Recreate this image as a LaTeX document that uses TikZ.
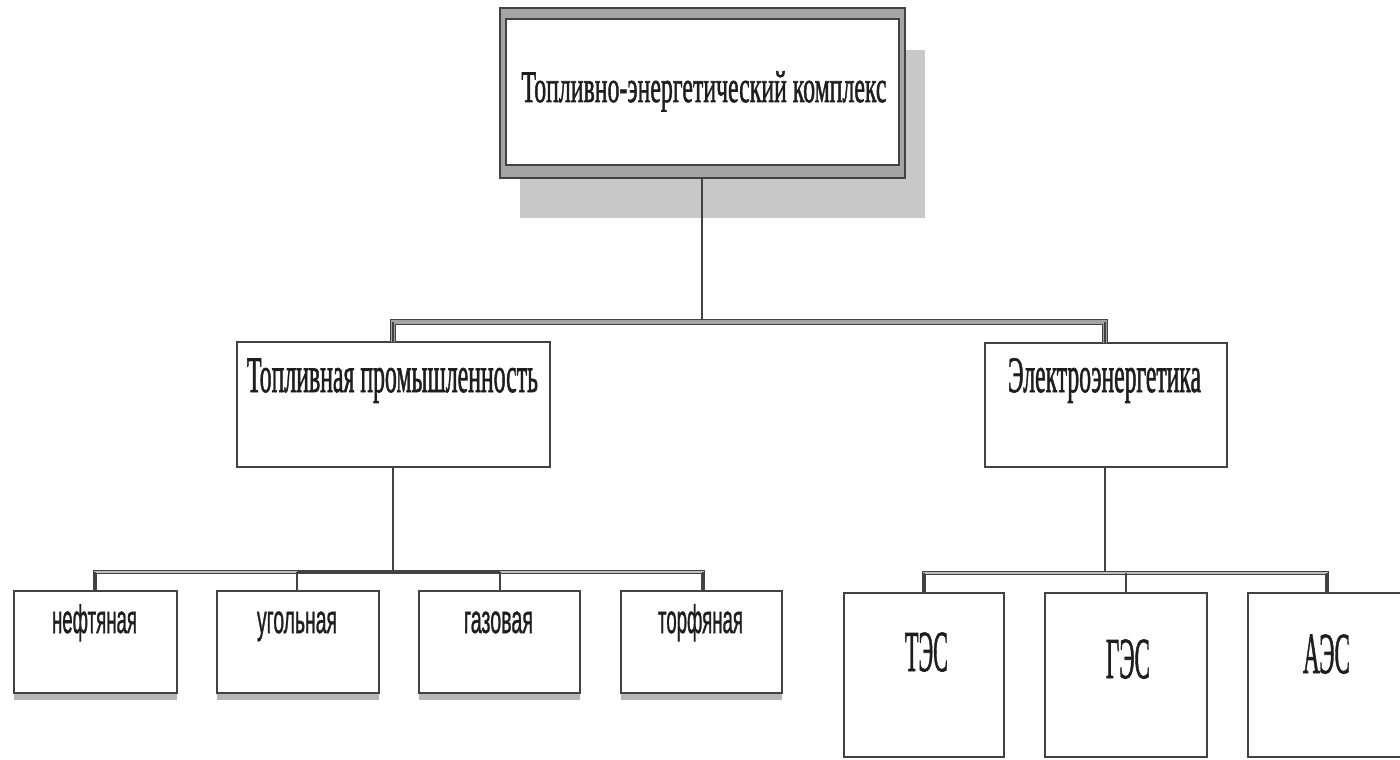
\documentclass[tikz,border=0pt]{standalone}
\usepackage{fontspec}
\setmainfont{Liberation Serif}[FakeBold=1.6]
\newfontfamily\sansf{Liberation Sans}[FakeBold=1.3]
\usepackage{graphicx}
\definecolor{frame}{HTML}{424242}
\definecolor{ink}{HTML}{1E1E1E}
\definecolor{shadowgray}{HTML}{C8C8C8}
\definecolor{midgray}{HTML}{A4A4A4}
\newcommand\fitw[2]{\resizebox{#1}{\height}{#2}}
\begin{document}
\begin{tikzpicture}[x=1pt,y=-1pt,
  box/.style={draw=frame, line width=2.4pt, fill=white, inner sep=0pt, outer sep=0pt, anchor=north west},
  lbl/.style={anchor=base, inner sep=0pt, outer sep=0pt, text=ink},
  conn/.style={draw=frame, line width=2.4pt},
  bus/.style={draw=frame, line width=1.3pt, double=midgray, double distance=3.5pt},
  lowbus/.style={draw=frame, line width=1.1pt, double=midgray!70, double distance=2pt},
]
\useasboundingbox (0,0) rectangle (1400,760);
\fill[white] (0,0) rectangle (1400,760);

% top box with shadow and double frame
\fill[shadowgray] (520,50) rectangle (925,218);
\node[box, draw=frame, line width=1.5pt, fill=midgray, minimum width=405pt, minimum height=170pt] (topouter) at (500,8) {};
\node[box, draw=frame, line width=1.5pt, minimum width=393pt, minimum height=146pt] (top) at (506,19) {};
\node[lbl] (t-top) at (704,102) {\fitw{365pt}{\fontsize{45}{45}\selectfont Топливно-энергетический комплекс}};

% second level
\node[box, minimum width=313pt, minimum height=125pt] (fuel) at (237,342) {};
\node[lbl] (t-fuel) at (392.5,392) {\fitw{291pt}{\fontsize{51}{51}\selectfont Топливная промышленность}};
\node[box, minimum width=242pt, minimum height=124pt] (elec) at (985,343) {};
\node[lbl] (t-elec) at (1104.5,392) {\fitw{193pt}{\fontsize{51}{51}\selectfont Электроэнергетика}};

% fuel children
\foreach \nm/\x/\w in {oil/14/163, coal/217/162, gas/419/161, peat/621/161}{
  \fill[midgray!80] (\x,690) rectangle (\x+\w,700);
  \node[box, minimum width=\w pt, minimum height=102pt] (\nm) at (\x,591) {};
}
\node[lbl] (t-oil)  at (94.5,633)  {\fitw{85pt}{\sansf\fontsize{40}{40}\selectfont нефтяная}};
\node[lbl] (t-coal) at (297,633)   {\fitw{80pt}{\sansf\fontsize{40}{40}\selectfont угольная}};
\node[lbl] (t-gas)  at (498.5,633) {\fitw{69pt}{\sansf\fontsize{40}{40}\selectfont газовая}};
\node[lbl] (t-peat) at (700.5,633) {\fitw{85pt}{\sansf\fontsize{40}{40}\selectfont торфяная}};

% electro children
\node[box, minimum width=160pt, minimum height=164pt] (tes) at (844,593) {};
\node[box, minimum width=162pt, minimum height=164pt] (ges) at (1045,593) {};
\node[box, minimum width=160pt, minimum height=164pt] (aes) at (1248,593) {};
\node[lbl] (t-tes) at (926.5,671) {\fitw{43pt}{\fontsize{58}{58}\selectfont ТЭС}};
\node[lbl] (t-ges) at (1128,678)  {\fitw{44pt}{\fontsize{58}{58}\selectfont ГЭС}};
\node[lbl] (t-aes) at (1326.5,673){\fitw{47pt}{\fontsize{58}{58}\selectfont АЭС}};

% connectors
\coordinate (bus1) at (702,322);
\draw[conn] (topouter.south -| bus1) -- (bus1);
\draw[bus] (fuel.north -| 393,0) |- (bus1) -| (elec.north -| 1105,0);
\draw[conn] (393,342) -- (393,322);
\draw[conn] (1105,343) -- (1105,322);

\coordinate (bus2) at (393,572);
\draw[conn] (fuel.south -| bus2) -- (bus2);
\draw[lowbus] (oil.north -| 95,0) |- (bus2) -| (peat.north -| 703,0);
\draw[conn] (297,572) -- (coal.north -| 297,0);
\draw[conn] (500,572) -- (gas.north -| 500,0);
\draw[conn] (297,572) -- (500,572);
\draw[conn] (95,572) -- (oil.north -| 95,0);
\draw[conn] (703,572) -- (peat.north -| 703,0);

\coordinate (bus3) at (1105,573);
\draw[conn] (elec.south -| bus3) -- (bus3) -- (1126,573);
\draw[lowbus] (tes.north -| 924,0) |- (bus3) -| (aes.north -| 1327,0);
\draw[conn] (924,573) -- (tes.north -| 924,0);
\draw[conn] (1126,573) -- (ges.north -| 1126,0);
\draw[conn] (1327,573) -- (aes.north -| 1327,0);
\end{tikzpicture}
\end{document}
